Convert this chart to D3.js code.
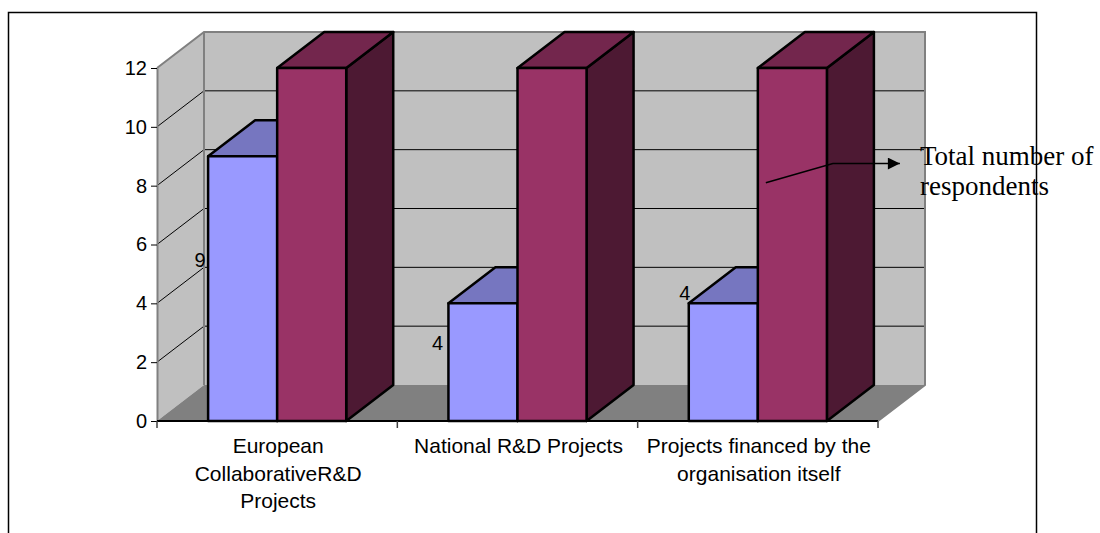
<!DOCTYPE html>
<html>
<head>
<meta charset="utf-8">
<script src="https://cdn.jsdelivr.net/npm/d3@7/dist/d3.min.js"></script>
<style>
  html, body { margin: 0; padding: 0; background: #ffffff; }
  svg { display: block; }
</style>
</head>
<body>
<svg id="chart" width="1100" height="533"></svg>
<script>
// ---- data ----
const categories = [
  "European CollaborativeR&D Projects",
  "National R&D Projects",
  "Projects financed by the organisation itself"
];
const categoryLines = [
  ["European", "CollaborativeR&D", "Projects"],
  ["National R&D Projects"],
  ["Projects financed by the", "organisation itself"]
];
const seriesNames = ["Participants", "Total number of respondents"];
const participants = [9, 4, 4];
const respondents = [12, 12, 12];
const yTicks = [0, 2, 4, 6, 8, 10, 12];
const annotationLines = ["Total number of", "respondents"];

// ---- layout ----
const svg = d3.select("#chart");
const depthX = 47, depthY = 36;           // 3-D depth offset
const y = d3.scaleLinear().domain([0, 12]).range([421, 68]);
const x0 = d3.scaleBand().domain(categories).range([157, 878]);
const x1 = d3.scaleBand().domain(seriesNames).range([0, x0.bandwidth()]).paddingOuter(0.74);

const colors = {
  [seriesNames[0]]: { front: "#9999ff", top: "#7676c0", side: "#4c4c80" },
  [seriesNames[1]]: { front: "#993366", top: "#73264d", side: "#4d1933" }
};

const xl = x0.range()[0], xr = x0.range()[1];
const yb = y(0), yt = y(12);

// outer frame
svg.append("rect")
  .attr("x", 8.5).attr("y", 12.5).attr("width", 1028).attr("height", 600)
  .attr("fill", "none").attr("stroke", "#000").attr("stroke-width", 1.5);

const walls = svg.append("g");
// side wall
walls.append("polygon")
  .attr("points", [[xl, yt], [xl + depthX, yt - depthY], [xl + depthX, yb - depthY], [xl, yb]].join(" "))
  .attr("fill", "#c0c0c0");
// back wall
walls.append("polygon")
  .attr("points", [[xl + depthX, yt - depthY], [xr + depthX, yt - depthY], [xr + depthX, yb - depthY], [xl + depthX, yb - depthY]].join(" "))
  .attr("fill", "#c0c0c0");
// floor
walls.append("polygon")
  .attr("points", [[xl, yb], [xl + depthX, yb - depthY], [xr + depthX, yb - depthY], [xr, yb]].join(" "))
  .attr("fill", "#808080");

// gridlines on side and back walls
const grid = yTicks.filter(v => v > 0 && v < 12);
walls.selectAll(".gside").data(grid).join("line")
  .attr("x1", xl).attr("y1", d => y(d))
  .attr("x2", xl + depthX).attr("y2", d => y(d) - depthY)
  .attr("stroke", "#000").attr("stroke-width", 1);
walls.selectAll(".gback").data(grid).join("line")
  .attr("x1", xl + depthX).attr("y1", d => y(d) - depthY)
  .attr("x2", xr + depthX).attr("y2", d => y(d) - depthY)
  .attr("stroke", "#000").attr("stroke-width", 1);

// wall edges
const edge = d3.line();
walls.append("path")
  .attr("d", edge([[xl, yt], [xl + depthX, yt - depthY], [xr + depthX, yt - depthY], [xr + depthX, yb - depthY], [xr, yb]]))
  .attr("fill", "none").attr("stroke", "#808080").attr("stroke-width", 2);
walls.append("path")
  .attr("d", edge([[xl + depthX, yt - depthY], [xl + depthX, yb - depthY]]))
  .attr("fill", "none").attr("stroke", "#808080").attr("stroke-width", 2);

// ---- bars ----
const bars = [];
categories.forEach((c, i) => {
  bars.push({ cat: c, series: seriesNames[0], value: participants[i] });
  bars.push({ cat: c, series: seriesNames[1], value: respondents[i] });
});

const barG = svg.append("g")
  .attr("stroke", "#000").attr("stroke-width", 2.5).attr("stroke-linejoin", "round");

bars.forEach(d => {
  const a = x0(d.cat) + x1(d.series);
  const b = a + x1.bandwidth();
  const top = y(d.value);
  const col = colors[d.series];
  const g = barG.append("g");
  g.append("polygon")
    .attr("points", [[b, top], [b + depthX, top - depthY], [b + depthX, yb - depthY], [b, yb]].join(" "))
    .attr("fill", col.side);
  g.append("polygon")
    .attr("points", [[a, top], [a + depthX, top - depthY], [b + depthX, top - depthY], [b, top]].join(" "))
    .attr("fill", col.top);
  g.append("rect")
    .attr("x", a).attr("y", top).attr("width", b - a).attr("height", yb - top)
    .attr("fill", col.front);
});

// ---- axes ----
const yAxis = svg.append("g")
  .attr("transform", `translate(${xl},0)`)
  .call(d3.axisLeft(y).tickValues(yTicks).tickSize(6).tickSizeOuter(0).tickPadding(4));
yAxis.select(".domain").attr("stroke", "#808080").attr("stroke-width", 2);
yAxis.selectAll(".tick line").attr("stroke", "#000").attr("stroke-width", 1);
yAxis.selectAll(".tick text")
  .attr("font-family", "'Liberation Sans', Arial, sans-serif")
  .attr("font-size", 20).attr("fill", "#000");

// base line and category separators
svg.append("line")
  .attr("x1", xl).attr("x2", xr).attr("y1", yb).attr("y2", yb)
  .attr("stroke", "#000").attr("stroke-width", 2);
const bounds = categories.map(c => x0(c)).concat([xr]);
svg.selectAll(".xtick").data(bounds).join("line")
  .attr("x1", d => d).attr("x2", d => d).attr("y1", yb).attr("y2", yb + 7)
  .attr("stroke", "#404040").attr("stroke-width", 1.5);

// category labels
const catG = svg.append("g")
  .attr("font-family", "'Liberation Sans', Arial, sans-serif")
  .attr("font-size", 21).attr("fill", "#000").attr("text-anchor", "middle");
categories.forEach((c, i) => {
  const t = catG.append("text")
    .attr("x", x0(c) + x0.bandwidth() / 2 + 1)
    .attr("y", 453);
  categoryLines[i].forEach((ln, k) => {
    t.append("tspan")
      .attr("x", x0(c) + x0.bandwidth() / 2 + 1)
      .attr("y", 453 + k * 27.5)
      .text(ln);
  });
});

// value labels on the participant bars
const labelOffsets = [[-8, 104], [-11, 39], [-4, -11]];
svg.append("g")
  .attr("font-family", "'Liberation Sans', Arial, sans-serif")
  .attr("font-size", 20).attr("fill", "#000").attr("text-anchor", "middle")
  .selectAll("text").data(participants).join("text")
  .attr("x", (d, i) => x0(categories[i]) + x1(seriesNames[0]) + labelOffsets[i][0])
  .attr("y", (d, i) => y(d) + labelOffsets[i][1])
  .attr("dy", "0.36em")
  .text(d => d);

// ---- annotation arrow ----
svg.append("defs").append("marker")
  .attr("id", "arrowhead")
  .attr("viewBox", "0 0 10 10").attr("refX", 10).attr("refY", 5)
  .attr("markerWidth", 14).attr("markerHeight", 12).attr("markerUnits", "userSpaceOnUse")
  .attr("orient", "auto")
  .append("path").attr("d", "M0,0 L10,5 L0,10 Z").attr("fill", "#000");

const lastCat = categories[2];
const mStart = x0(lastCat) + x1(seriesNames[1]);
const mEnd = mStart + x1.bandwidth();
svg.append("path")
  .attr("d", d3.line()([[mStart + 8, y(8.1)], [mEnd + 6, y(8.75)], [mEnd + 73, y(8.75)]]))
  .attr("fill", "none").attr("stroke", "#000").attr("stroke-width", 1.5)
  .attr("marker-end", "url(#arrowhead)");

svg.append("g")
  .attr("font-family", "'Liberation Serif', 'Times New Roman', serif")
  .attr("font-size", 27).attr("fill", "#000")
  .selectAll("text").data(annotationLines).join("text")
  .attr("x", 920).attr("y", (d, i) => 165 + i * 30)
  .text(d => d);
</script>
</body>
</html>
